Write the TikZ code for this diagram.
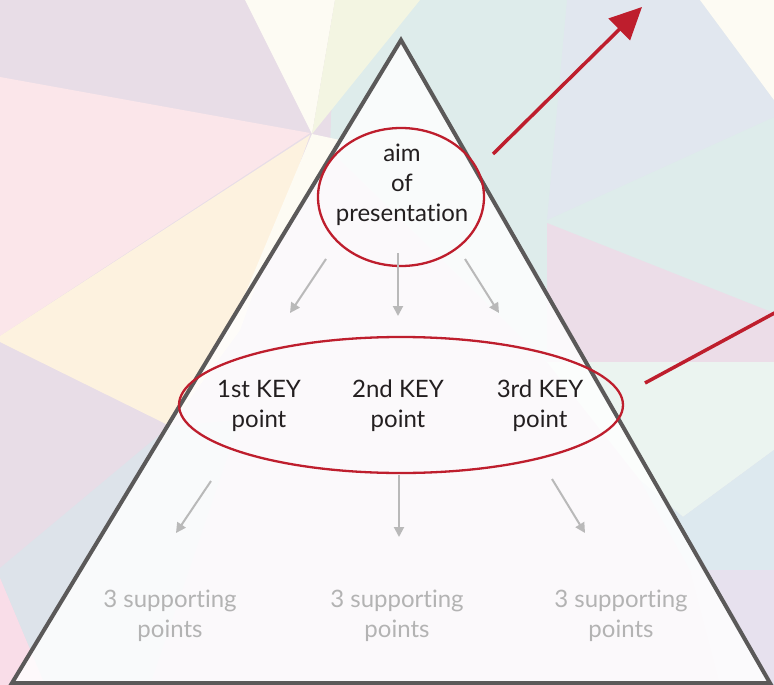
\documentclass[tikz,border=0pt]{standalone}
\usepackage{fontspec}
\setmainfont{Lato}[Ligatures={NoCommon}]
\usetikzlibrary{arrows.meta,shapes.geometric}
\definecolor{redc}{HTML}{BE1E2D}
\definecolor{triline}{HTML}{5B5959}
\definecolor{grayarr}{HTML}{B9B9B9}
\definecolor{suptxt}{HTML}{B3B3B3}
\definecolor{maintxt}{HTML}{231F20}
\definecolor{bglav}{HTML}{E8DDE7}
\definecolor{bgteal}{HTML}{DEECEB}
\definecolor{bgblue}{HTML}{E1E7EF}
\definecolor{bgcream}{HTML}{FDFBF3}
\definecolor{bgpinklav}{HTML}{ECDDE8}
\definecolor{bglteal}{HTML}{EBF4F0}
\definecolor{bglblue}{HTML}{DDE9EF}
\definecolor{bglav2}{HTML}{E7E1EE}
\definecolor{bgpink}{HTML}{FBE6EA}
\definecolor{bgyellow}{HTML}{FDF2DF}
\definecolor{bggreen}{HTML}{F3F5E2}
\definecolor{bgbluegray}{HTML}{DDE3EA}
\definecolor{bgpink2}{HTML}{F9DDE8}
\tikzset{
  redell/.style={ellipse, draw=redc, line width=2.3pt, inner sep=0pt},
  keytxt/.style={align=center, text=maintxt, font=\fontsize{24}{30}\selectfont},
  suptext/.style={align=center, text=suptxt, font=\fontsize{24}{30}\selectfont},
  grayarrow/.style={draw=grayarr, line width=2pt, -{Triangle[length=10pt,width=10pt]}},
  redarrow/.style={draw=redc, line width=3.5pt},
}
\begin{document}
\begin{tikzpicture}[x=1pt,y=-1pt]
\useasboundingbox (0,0) rectangle (774,685);
\begin{scope}
\clip (0,0) rectangle (774,685);
% background polygons
\fill[bglav] (0,0) rectangle (774,685);
\fill[bgteal] (335,0) -- (774,0) -- (774,362) -- (547,362) -- (330,150) -- cycle;
\fill[bgblue] (567,0) -- (700,0) -- (774,100) -- (774,117) -- (547,220) -- cycle;
\fill[bgcream] (700,0) -- (774,0) -- (774,100) -- cycle;
\fill[bgpinklav] (547,223) -- (774,313) -- (774,362) -- (547,362) -- cycle;
\fill[bglteal] (547,362) -- (774,362) -- (774,450) -- (683,517) -- (640,480) -- cycle;
\fill[bglblue] (640,480) -- (683,517) -- (774,450) -- (774,570) -- (690,570) -- cycle;
\fill[bglav2] (690,570) -- (774,570) -- (774,685) -- (720,685) -- cycle;
\fill[bgpink] (0,77) -- (310,133) -- (0,336) -- cycle;
\fill[bgyellow] (310,135) -- (0,336) -- (0,342) -- (170,426) -- (240,330) -- cycle;
\fill[bgcream] (245,0) -- (335,0) -- (312,134) -- cycle;
\fill[bggreen] (335,0) -- (420,0) -- (312,134) -- cycle;
\fill[bgcream] (312,134) -- (340,140) -- (215,350) -- (230,330) -- cycle;
\fill[bgbluegray] (170,426) -- (0,568) -- (0,578) -- (45,685) -- (150,685) -- (240,420) -- cycle;
\fill[bgpink2] (0,578) -- (45,685) -- (0,685) -- cycle;
\end{scope}
% pyramid
\coordinate (apex) at (401,40);
\coordinate (bl) at (12,683);
\coordinate (br) at (770,683);
\fill[white, opacity=0.84] (apex) -- (bl) -- (br) -- cycle;
\draw[triline, line width=4pt, line join=miter] (apex) -- (bl) -- (br) -- cycle;
% ellipses
\node[redell, minimum width=166pt, minimum height=138pt] (aimell) at (401,197) {};
\node[redell, minimum width=444pt, minimum height=136pt] (keyell) at (401,405) {};
% texts
\node[keytxt] (aim) at (402,185) {aim\\of\\presentation};
\node[keytxt] (k1) at (259,406) {1st KEY\\point};
\node[keytxt] (k2) at (398,406) {2nd KEY\\point};
\node[keytxt] (k3) at (540,406) {3rd KEY\\point};
\node[suptext] (s1) at (170,616) {3 supporting\\points};
\node[suptext] (s2) at (397,616) {3 supporting\\points};
\node[suptext] (s3) at (621,616) {3 supporting\\points};
% gray arrows
\coordinate (a1s) at (326,259); \coordinate (a1e) at (290,313);
\coordinate (a2s) at (398,253); \coordinate (a2e) at (398,316);
\coordinate (a3s) at (465,259); \coordinate (a3e) at (499,313);
\coordinate (b1s) at (211,481); \coordinate (b1e) at (176,533);
\coordinate (b2s) at (399,475); \coordinate (b2e) at (399,537);
\coordinate (b3s) at (552,479); \coordinate (b3e) at (585,533);
\draw[grayarrow] (a1s) -- (a1e);
\draw[grayarrow] (a2s) -- (a2e);
\draw[grayarrow] (a3s) -- (a3e);
\draw[grayarrow] (b1s) -- (b1e);
\draw[grayarrow] (b2s) -- (b2e);
\draw[grayarrow] (b3s) -- (b3e);
% red pointers
\coordinate (r1s) at (493,154); \coordinate (r1e) at (642,7);
\coordinate (r2s) at (645,383); \coordinate (r2e) at (780,310);
\draw[redarrow, -{Triangle[length=32pt,width=30pt]}] (r1s) -- (r1e);
\begin{scope}
\clip (0,0) rectangle (774,685);
\draw[redarrow] (r2s) -- (r2e);
\end{scope}
\end{tikzpicture}
\end{document}
